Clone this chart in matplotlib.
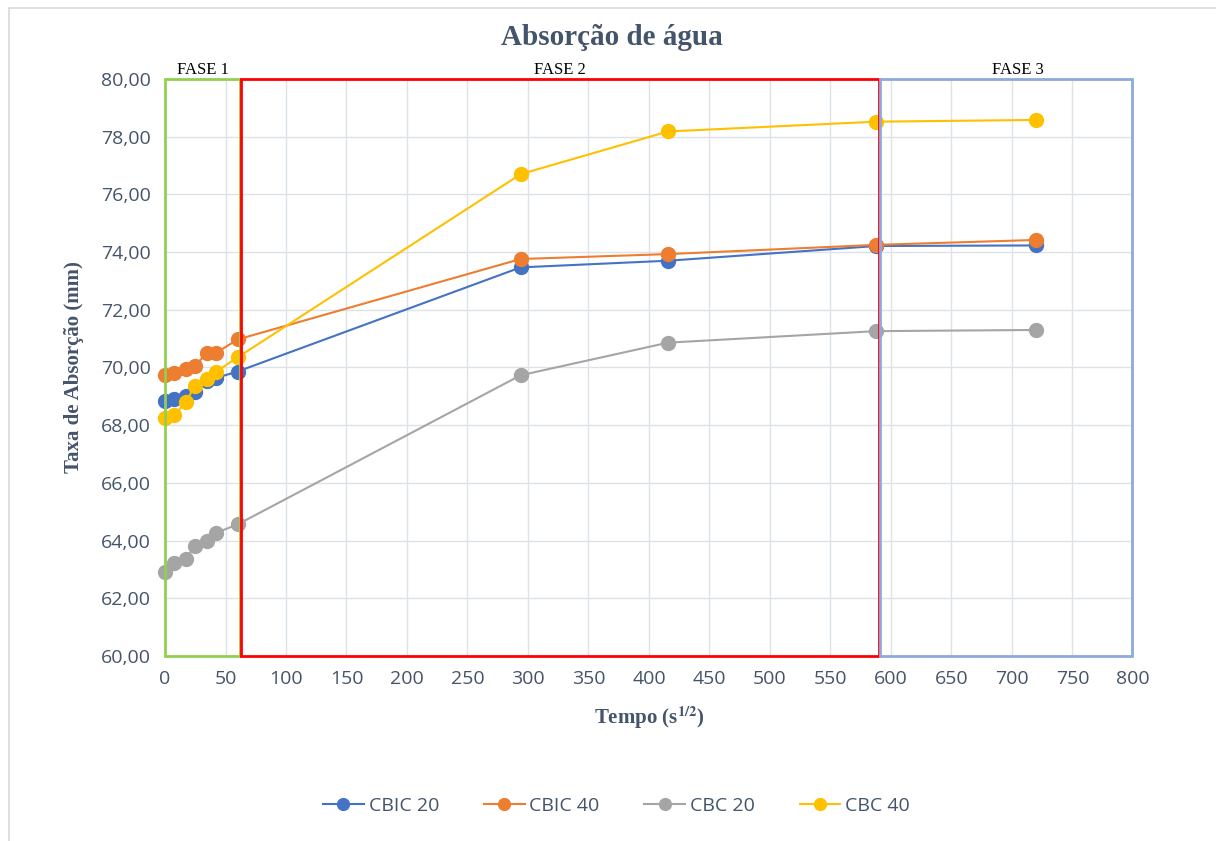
import matplotlib.pyplot as plt
from matplotlib.patches import Rectangle
from matplotlib.ticker import FuncFormatter, MultipleLocator

plt.rcParams["mathtext.fontset"] = "stix"

# tempo (s^1/2)
tempo = [0, 7.75, 17.32, 24.49, 34.64, 42.43, 60, 293.94, 415.69, 587.88, 720]

cbic20 = [68.84, 68.91, 69.01, 69.15, 69.53, 69.64, 69.86, 73.47, 73.70, 74.21, 74.23]
cbic40 = [69.74, 69.81, 69.95, 70.05, 70.50, 70.51, 70.97, 73.76, 73.93, 74.25, 74.42]
cbc20 = [62.90, 63.24, 63.35, 63.81, 64.00, 64.27, 64.56, 69.73, 70.86, 71.26, 71.30]
cbc40 = [68.26, 68.36, 68.80, 69.36, 69.60, 69.86, 70.35, 76.70, 78.18, 78.52, 78.58]

series = ["CBIC 20", "CBIC 40", "CBC 20", "CBC 40"]
cores = ["#4472C4", "#ED7D31", "#A5A5A5", "#FFC000"]

# fases: (inicio, fim, cor, rotulo)
fases = [(0, 62, "#92D050", "FASE 1"),
         (63, 590, "#FF0000", "FASE 2"),
         (591, 799, "#8EA9DB", "FASE 3")]

txt = "#44546A"

fig = plt.figure(figsize=(12.16, 8.41), dpi=100)
ax = fig.add_axes([0.1357, 0.22, 0.7960, 0.6861])

fig.patches.append(Rectangle((0.007, -0.01), 1.0, 1.0, transform=fig.transFigure,
                             fill=False, edgecolor="#D9D9D9", linewidth=1.2))

for nome, ys, c in zip(series, [cbic20, cbic40, cbc20, cbc40], cores):
    ax.plot(tempo, ys, color=c, linewidth=1.5, marker="o", markersize=10,
            label=nome, zorder=3, clip_on=False)

for x0, x1, c, rot in fases:
    ax.add_patch(Rectangle((x0, 60), x1 - x0, 20, fill=False, edgecolor=c,
                           linewidth=2, zorder=4, clip_on=False))
    ax.text((x0 + x1) / 2 if rot != "FASE 3" else 705, 80.05, rot,
            ha="center", va="bottom", fontsize=12, family="Liberation Serif")

ax.set_xlim(0, 800)
ax.set_ylim(60, 80)
ax.xaxis.set_major_locator(MultipleLocator(50))
ax.yaxis.set_major_locator(MultipleLocator(2))
ax.yaxis.set_major_formatter(FuncFormatter(lambda v, p: f"{v:.2f}".replace(".", ",")))
ax.grid(True, color="#DDE1E8", linewidth=1)
ax.set_axisbelow(True)
for s in ax.spines.values():
    s.set_visible(False)
ax.tick_params(length=0, labelsize=14, labelcolor=txt, pad=10)
for lab in ax.get_xticklabels() + ax.get_yticklabels():
    lab.set_family("Open Sans")

fig.text(0.503, 0.955, "Absorção de água", ha="center", va="center", fontsize=21,
         fontweight="bold", color=txt, family="Liberation Serif")
ax.set_xlabel("Tempo (s$^{\\mathbf{1/2}}$)", fontsize=15, fontweight="bold", color=txt,
              family="Liberation Serif", labelpad=12)
ax.set_ylabel("Taxa de Absorção (mm)", fontsize=15, fontweight="bold", color=txt,
              family="Liberation Serif", labelpad=12)

leg = fig.legend(loc="center", bbox_to_anchor=(0.507, 0.042), ncol=4, frameon=False,
                 prop={"family": "Open Sans", "size": 14}, handlelength=2.1,
                 handletextpad=0.25, columnspacing=2.3, markerscale=0.85)
for t in leg.get_texts():
    t.set_color(txt)

fig.savefig("out.png", dpi=100)
